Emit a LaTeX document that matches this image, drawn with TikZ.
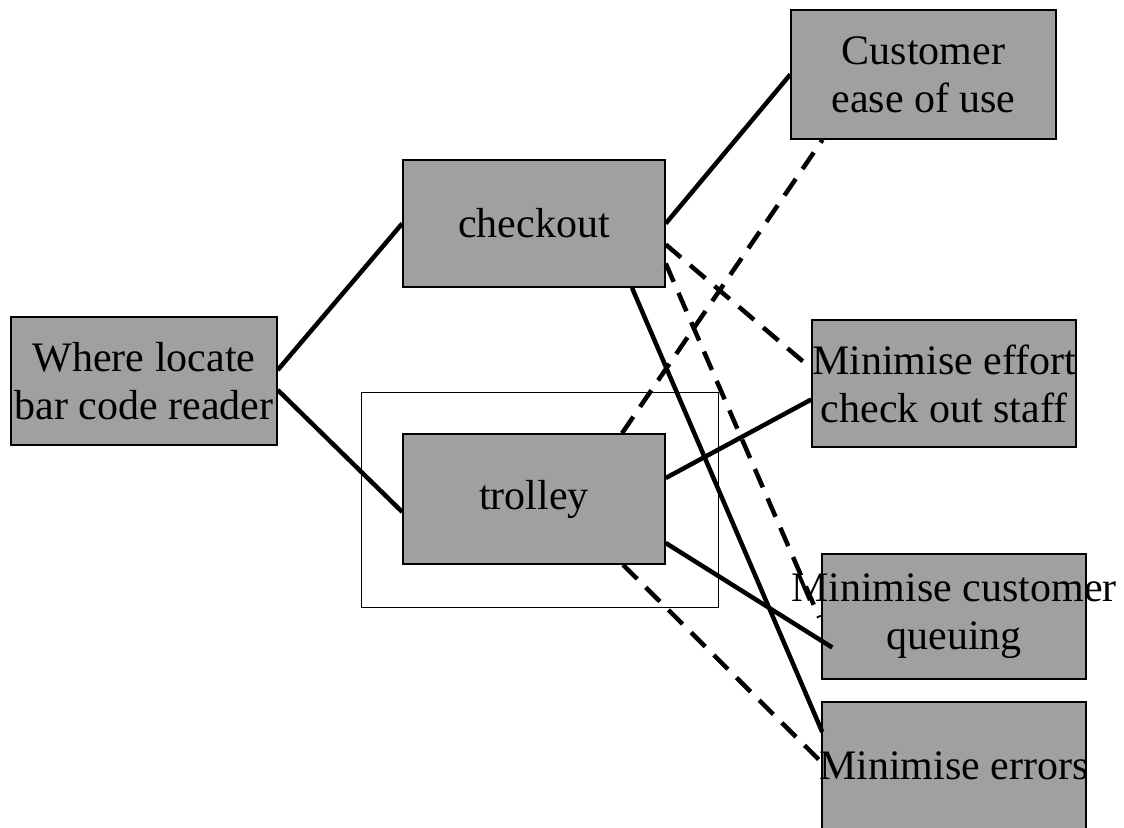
\documentclass[tikz,border=0pt]{standalone}
\usepackage{fontspec}
\setmainfont{Liberation Serif}
\definecolor{boxgray}{RGB}{160,160,160}
\newcommand{\zl}[1]{\makebox[0pt]{#1}}
\begin{document}
\begin{tikzpicture}[x=1pt,y=-1pt,
  gbox/.style={draw=black, line width=1.5pt, fill=boxgray, rectangle, inner sep=0pt,
    align=center, font=\fontsize{42}{48}\selectfont},
  solidlink/.style={line width=4.5pt},
  dashlink/.style={line width=4.5pt, dash pattern=on 20pt off 12pt}]
\useasboundingbox (0,0) rectangle (1124,827);
\fill[white] (0,0) rectangle (1124,827);
% frame around trolley
\node[draw=black, line width=1pt, minimum width=357pt, minimum height=215pt, inner sep=0pt] (frame) at (539.5,499.5) {};
% nodes
\node[gbox, minimum width=266pt, minimum height=128pt] (where) at (144,381) {\zl{Where locate}\\\zl{bar code reader}};
\node[gbox, minimum width=262pt, minimum height=127pt] (checkout) at (534,223.5) {\zl{checkout}};
\node[gbox, minimum width=262pt, minimum height=130pt] (trolley) at (534,499) {\zl{trolley}};
\node[gbox, minimum width=265pt, minimum height=129pt] (customer) at (923.5,74.5) {\zl{Customer}\\\zl{ease of use}};
\node[gbox, minimum width=264pt, minimum height=127pt] (effort) at (944,383.5) {\zl{Minimise effort}\\\zl{check out staff}};
\node[gbox, minimum width=264pt, minimum height=125pt] (queuing) at (954,616.5) {\zl{Minimise customer}\\\zl{queuing}};
\node[gbox, minimum width=264pt, minimum height=128pt] (errors) at (954,766) {\zl{Minimise errors}};
% connectors
\draw[solidlink] ([yshift=11pt]where.east) -- (checkout.west);
\draw[solidlink] ([yshift=-9pt]where.east) -- ([yshift=-13pt]trolley.west);
\draw[solidlink] (checkout.east) -- (customer.west);
\draw[dashlink] ([yshift=-21pt]checkout.east) -- ([yshift=15pt]effort.west);
\draw[dashlink] ([yshift=-40pt]checkout.east) -- ([xshift=-2pt,yshift=-1pt]queuing.west);
\draw[solidlink] ([xshift=98pt]checkout.south) -- ([xshift=1pt,yshift=34pt]errors.west);
\draw[dashlink] ([xshift=88pt]trolley.north) -- ([xshift=-101pt]customer.south);
\draw[solidlink] ([yshift=21pt]trolley.east) -- ([yshift=-16pt]effort.west);
\draw[solidlink] ([yshift=-44pt]trolley.east) -- ([xshift=11pt,yshift=-31pt]queuing.west);
\draw[dashlink] ([xshift=89pt]trolley.south) -- ([xshift=-2pt,yshift=6pt]errors.west);
\end{tikzpicture}
\end{document}
